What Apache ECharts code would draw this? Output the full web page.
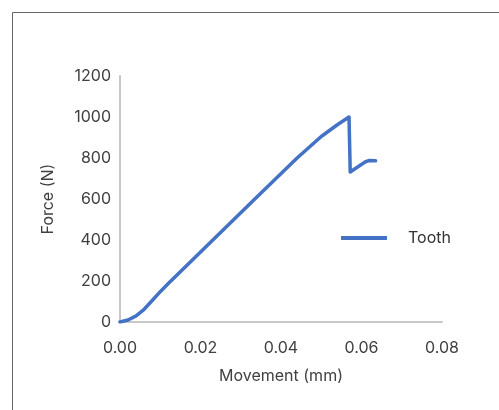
<!DOCTYPE html>
<html>
<head>
<meta charset="utf-8">
<script src="https://cdn.jsdelivr.net/npm/echarts@6/dist/echarts.min.js"></script>
<style>
html,body{margin:0;padding:0;background:#fff;}
#c{width:499px;height:410px;}
</style>
</head>
<body>
<div id="c"></div>
<script>
const seriesName = "Tooth";
const movement = [0, 0.002, 0.004, 0.006, 0.008, 0.010, 0.012, 0.0335, 0.044, 0.050, 0.054, 0.0569, 0.0572, 0.0595, 0.0610, 0.0620, 0.0635];
const force    = [0, 10,    30,    62,    105,   148,   188,   600,    800,   905,   962,   1000,   732,    762,    782,    788,    786];
const xTicks = [0, 0.02, 0.04, 0.06, 0.08];
const yTicks = [0, 200, 400, 600, 800, 1000, 1200];
const xTitle = "Movement (mm)";
const yTitle = "Force (N)";

const pts = movement.map((m, i) => [m, force[i]]);
const font = "Inter, 'Noto Sans', sans-serif";
const chart = echarts.init(document.getElementById('c'), null, {renderer: 'canvas'});
chart.setOption({
  animation: false,
  backgroundColor: '#fff',
  graphic: [{
    type: 'rect', left: 10, top: 10, silent: true,
    shape: {x: 0.5, y: 0.5, width: 600, height: 600},
    style: {fill: 'none', stroke: '#666', lineWidth: 1}
  }],
  grid: {left: 120, right: 57, top: 76, bottom: 88, containLabel: false},
  legend: {
    data: [seriesName], left: 336, top: 225, itemWidth: 46, itemHeight: 4, itemGap: 10,
    icon: 'rect',
    textStyle: {fontFamily: font, fontSize: 16, color: '#333', padding: [0, 0, 0, 16]}
  },
  xAxis: {
    type: 'value', min: xTicks[0], max: xTicks[xTicks.length - 1], interval: 0.02,
    name: xTitle, nameLocation: 'middle', nameGap: 46,
    nameTextStyle: {fontFamily: font, fontSize: 16, color: '#404040'},
    axisLine: {show: true, lineStyle: {color: '#c8c8c8', width: 2}},
    axisTick: {show: false}, splitLine: {show: false},
    axisLabel: {fontFamily: font, fontSize: 16, color: '#404040', margin: 18,
      formatter: v => v.toFixed(2)}
  },
  yAxis: {
    type: 'value', min: yTicks[0], max: yTicks[yTicks.length - 1], interval: 200,
    name: yTitle, nameLocation: 'middle', nameGap: 64,
    nameTextStyle: {fontFamily: font, fontSize: 16, color: '#404040'},
    axisLine: {show: true, lineStyle: {color: '#c8c8c8', width: 2}},
    axisTick: {show: false}, splitLine: {show: false},
    axisLabel: {fontFamily: font, fontSize: 16, color: '#404040', margin: 9,
      formatter: v => String(v)}
  },
  series: [{
    name: seriesName, type: 'line', data: pts, showSymbol: false, symbol: 'none',
    smooth: false, lineStyle: {color: '#4472c4', width: 3.5, join: 'round', cap: 'round'},
    itemStyle: {color: '#4472c4'}
  }]
});
</script>
</body>
</html>
